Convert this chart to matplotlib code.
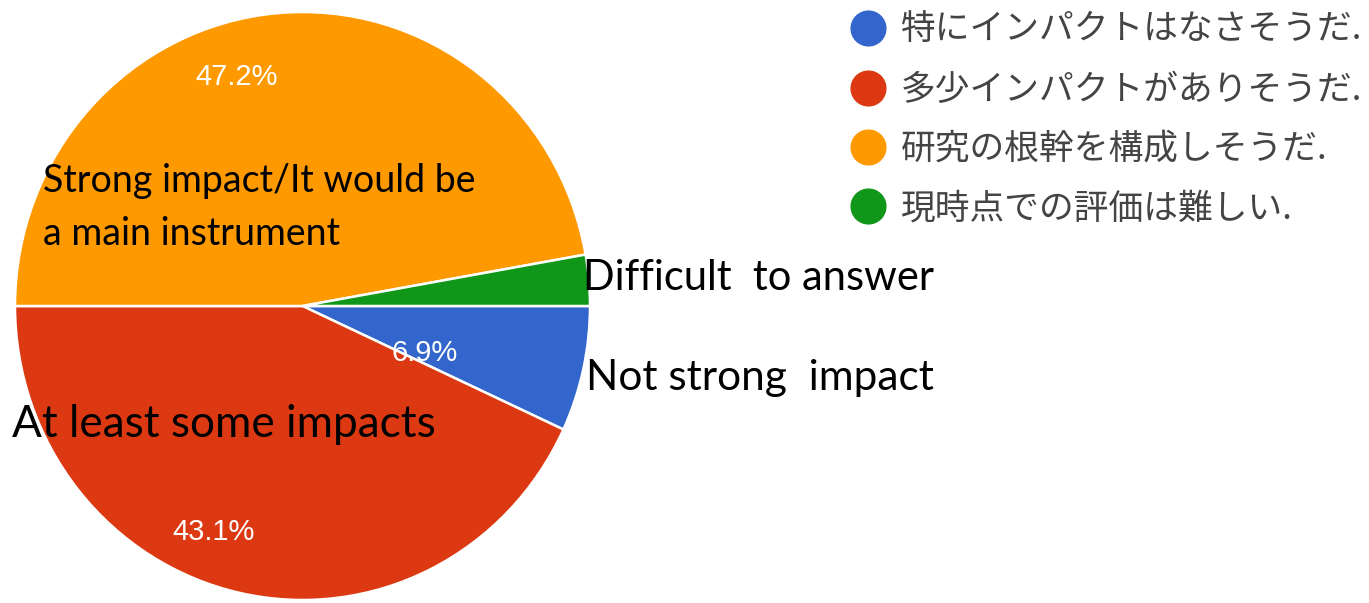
import matplotlib.pyplot as plt
from matplotlib.lines import Line2D

# survey answers, clockwise from 3 o'clock
labels_jp = ["特にインパクトはなさそうだ.", "多少インパクトがありそうだ.",
             "研究の根幹を構成しそうだ.", "現時点での評価は難しい."]
shares = [6.9, 43.1, 47.2, 2.8]
colors = ["#3366CC", "#DC3912", "#FF9900", "#109618"]
pct_pos = [(0.426, -0.160), (-0.311, -0.769), (-0.228, 0.779), None]

W, H = 1369, 603
fig = plt.figure(figsize=(W / 100, H / 100), dpi=100)
# pie box: x 15..590, y 12..600 (px from top)
ax = fig.add_axes([15 / W, 3 / H, 575 / W, 588 / H])

wedges, texts, autotexts = ax.pie(
    shares, colors=colors, startangle=0, counterclock=False,
    autopct=lambda p: f"{p:.1f}%" if p > 5 else "",
    wedgeprops=dict(edgecolor="white", linewidth=1.8),
    textprops=dict(color="white", fontsize=21, family="Liberation Sans"))
for t, pos in zip(autotexts, pct_pos):
    if pos is not None:
        t.set_position(pos)
ax.set_aspect("auto")
ax.set_xlim(-1, 1)
ax.set_ylim(-1, 1)
ax.axis("off")

# English annotations on top of the pie (baseline positions in px)
def en_label(x, y, s, size):
    fig.text(x / W, 1 - y / H, s, fontsize=size, family="Lato",
             color="black", va="baseline", ha="left")

en_label(43, 192, "Strong impact/It would be", 27)
en_label(43, 245, "a main instrument", 27)
en_label(583, 290, "Difficult  to answer", 30)
en_label(586, 390, "Not strong  impact", 30.5)
en_label(12, 437, "At least some impacts", 31.8)

handles = [Line2D([], [], marker="o", linestyle="none", markersize=25,
                  markerfacecolor=c, markeredgecolor=c) for c in colors]
leg = fig.legend(handles, labels_jp, loc="upper left",
                 bbox_to_anchor=(830 / W, 1 + 4 / H), frameon=False,
                 prop=dict(family=["Noto Sans CJK JP", "DejaVu Sans"], size=25),
                 borderpad=0, labelspacing=0.7, handletextpad=0.33,
                 handlelength=1.2)
for t in leg.get_texts():
    t.set_color("#444444")

fig.savefig("out.png", dpi=100)
